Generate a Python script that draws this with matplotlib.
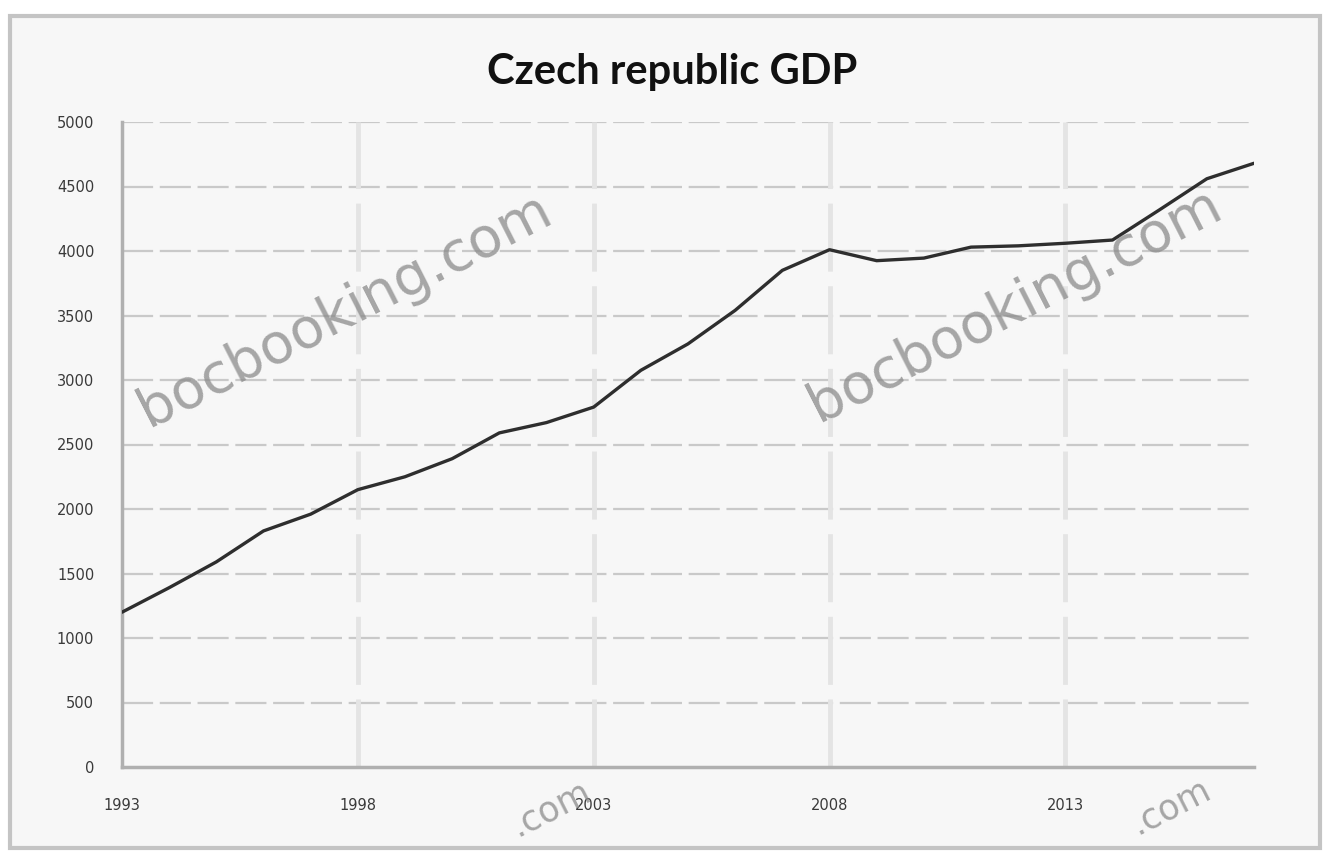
import matplotlib
matplotlib.use("Agg")
import matplotlib.pyplot as plt
from matplotlib.patches import Rectangle

years = list(range(1993, 2018))
gdp = [1200, 1390, 1590, 1830, 1960, 2150, 2250, 2390, 2590, 2670, 2790,
       3075, 3280, 3540, 3850, 4010, 3925, 3945, 4030, 4040, 4060, 4085,
       4320, 4560, 4680]
x_ticks = [1993, 1998, 2003, 2008, 2013]
y_ticks = list(range(0, 5001, 500))
title = "Czech republic GDP"
watermark = "bocbooking.com"
watermark_tail = ".com"

W, H = 1333, 856
fig = plt.figure(figsize=(W / 100, H / 100), dpi=100)
fig.patch.set_facecolor("white")

# chart frame
frame = Rectangle((10 / W, 8 / H), 1310 / W, 832 / H, transform=fig.transFigure,
                  facecolor="#f7f7f7", edgecolor="#c4c4c4", lw=3, zorder=-5)
fig.patches.append(frame)

ax = fig.add_axes([122 / W, 1 - 767 / H, (1254 - 122) / W, (767 - 122) / H])
ax.set_zorder(2)
ax.set_facecolor("none")
ax.set_xlim(1993, 2017)
ax.set_ylim(0, 5000)

ax.plot(years, gdp, color="#2e2e2e", lw=2.4, solid_joinstyle="round",
        solid_capstyle="round", zorder=3)

ax.set_xticks(x_ticks)
ax.set_xticklabels([str(v) for v in x_ticks])
ax.set_yticks(y_ticks)
ax.set_yticklabels([str(v) for v in y_ticks])
ax.tick_params(axis="both", length=0, labelsize=10.5, labelcolor="#3a3a3a")
ax.tick_params(axis="y", pad=20)
ax.tick_params(axis="x", pad=22)

for v in y_ticks[1:]:
    ax.axhline(v, color="#c9c9c9", lw=1.6, ls=(0, (14, 3)), zorder=1)
for v in x_ticks[1:]:
    ax.axvline(v, color="#e4e4e4", lw=3.5, ls=(0, (14, 3)), zorder=1)

for s in ["top", "right"]:
    ax.spines[s].set_visible(False)
ax.spines["left"].set_color("#b0b0b0")
ax.spines["left"].set_linewidth(2.5)
ax.spines["bottom"].set_color("#b0b0b0")
ax.spines["bottom"].set_linewidth(2.5)

fig.text(672 / W, 1 - 72 / H, title, ha="center", va="center", fontsize=30,
         fontweight="bold", family="Lato", color="#111111")

# watermarks
for cx, cy in [(345, 310), (1015, 305)]:
    fig.text(cx / W, 1 - cy / H, watermark, ha="center", va="center", rotation=27,
             fontsize=40, family="DejaVu Sans", color="#8a8a8a", alpha=0.75, zorder=5)
for cx, cy in [(550, 808), (1170, 806)]:
    fig.text(cx / W, 1 - cy / H, watermark_tail, ha="center", va="center", rotation=27,
             fontsize=25, family="DejaVu Sans", color="#8a8a8a", alpha=0.75, zorder=5)

fig.savefig("out.png", dpi=100, facecolor="white")
